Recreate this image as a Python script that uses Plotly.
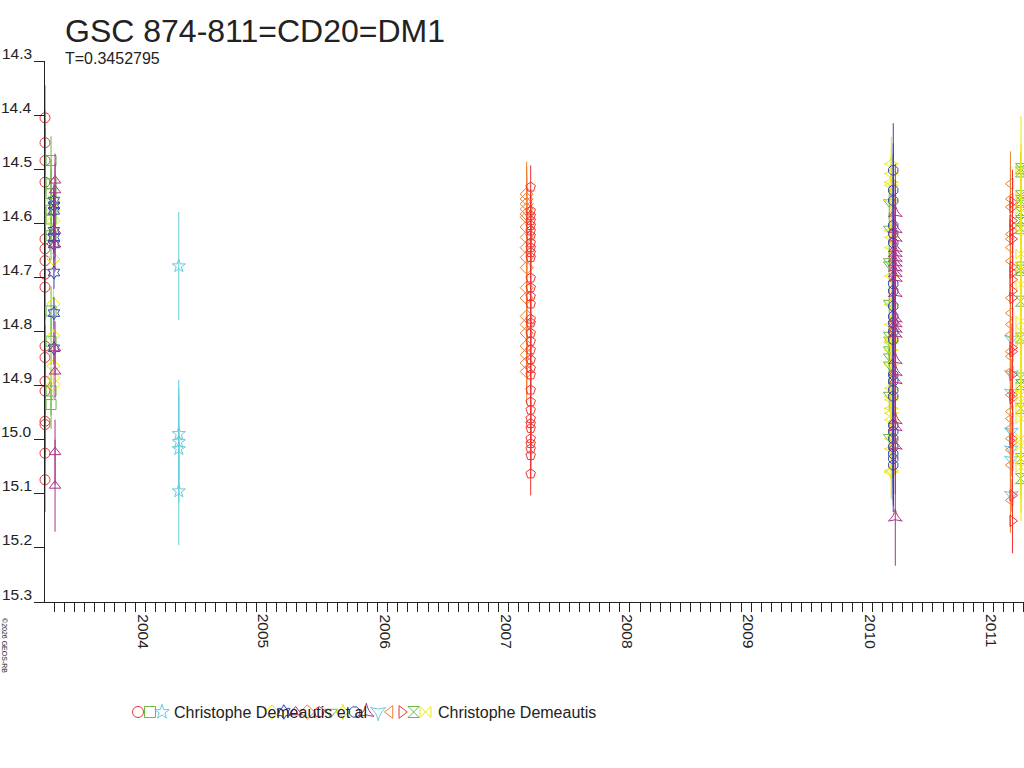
import plotly.graph_objects as go

W, H = 1024, 768

# ---------------- data ----------------
title = "GSC 874-811=CD20=DM1"
subtitle = "T=0.3452795"
copyright_text = "©2026 GEOS-RB"
observer_1 = "Christophe Demeautis et al"
observer_2 = "Christophe Demeautis"

year_ticks = [2004, 2005, 2006, 2007, 2008, 2009, 2010, 2011]
mag_ticks = [14.3, 14.4, 14.5, 14.6, 14.7, 14.8, 14.9, 15.0, 15.1, 15.2, 15.3]

# group 1 (Christophe Demeautis et al)
s1_date = 2003.256
s1_mag = [14.405, 14.451, 14.484, 14.524, 14.629, 14.647, 14.669, 14.694, 14.718,
          14.827, 14.848, 14.892, 14.910, 14.966, 14.972, 15.025, 15.074]
s1_err = 0.06

s2_date = 2003.306
s2_mag = [14.484, 14.527, 14.545, 14.576, 14.592, 14.623, 14.762, 14.818, 14.910, 14.935]
s2_err = 0.045

s3_date = 2004.36
s3_mag = [14.679, 14.989, 15.004, 15.017, 15.095]
s3_err = 0.1

# group 2 (Christophe Demeautis)
s4_date = 2003.326
s4_mag = [14.558, 14.576, 14.595, 14.666, 14.749, 14.808, 14.864, 14.885, 14.898]
s4_err = 0.03

s5_date = 2003.330
s5_mag = [14.558, 14.567, 14.577, 14.614, 14.626, 14.639, 14.691, 14.766, 14.831]
s5_err = 0.03

s6_date = 2003.339
s6_mag = [14.521, 14.539, 14.614, 14.639, 14.831, 14.874, 15.023, 15.085]
s6_err = [0.05, 0.05, 0.05, 0.05, 0.05, 0.05, 0.06, 0.085]

s7_date = 2007.231
s7_mag = [14.546, 14.555, 14.564, 14.574, 14.583, 14.589, 14.607, 14.626, 14.645, 14.663,
          14.682, 14.719, 14.738, 14.772, 14.787, 14.803, 14.827, 14.843, 14.858, 14.874]
s7_err = 0.06

s8_date = 2007.264
s8_mag = [14.533, 14.577, 14.586, 14.595, 14.604, 14.614, 14.623, 14.636, 14.645, 14.654,
          14.663, 14.701, 14.719, 14.735, 14.749, 14.777, 14.784, 14.803, 14.818, 14.834,
          14.852, 14.868, 14.880, 14.908, 14.930, 14.945, 14.961, 14.970, 14.979, 14.998,
          15.007, 15.017, 15.029, 15.063]
s8_err = 0.04

s9_date = 2010.223
s9_mag = [14.561, 14.610, 14.670, 14.676, 14.747, 14.806, 14.815, 14.833, 14.846, 14.861,
          14.917, 14.995]
s9_err = 0.03

s10_date = 2010.240
s10_mag = [14.490, 14.508, 14.524, 14.530, 14.558, 14.614, 14.626, 14.645, 14.697, 14.750,
           14.787, 14.812, 14.821, 14.834, 14.818, 14.861, 14.905, 14.920, 14.926, 14.942,
           14.951, 14.963, 14.998, 15.017, 15.057, 15.060]
s10_err = 0.05

s11_date = 2010.256
s11_mag = [14.502, 14.539, 14.558, 14.604, 14.619, 14.636, 14.712, 14.725, 14.753, 14.772,
           14.784, 14.800, 14.815, 14.880, 14.892, 14.908, 14.920, 14.973, 14.985, 14.998,
           15.013, 15.026, 15.035, 15.047]
s11_err = 0.087

s12_date = 2010.273
s12_mag = [14.580, 14.610, 14.626, 14.645, 14.654, 14.663, 14.672, 14.681, 14.691, 14.700,
           14.728, 14.775, 14.784, 14.794, 14.803, 14.852, 14.874, 14.889, 14.963, 14.976,
           15.010, 15.143]
s12_err = 0.09

s13_date = 2011.231
s13_mag = [14.815, 14.880, 14.914, 14.986, 15.019, 15.038, 15.103]
s13_err = 0.03

s14_date = 2011.223
s14_mag = [14.527, 14.555, 14.570, 14.620, 14.629, 14.645, 14.670, 14.738, 14.766, 14.787,
           14.806, 14.837, 14.846, 14.874, 14.917, 14.948, 14.961, 14.979, 14.998, 15.019,
           15.047, 15.112]
s14_err = 0.06

s15_date = 2011.240
s15_mag = [14.561, 14.570, 14.595, 14.604, 14.614, 14.629, 14.681, 14.691, 14.704, 14.725,
           14.738, 14.830, 14.837, 14.880, 14.917, 14.923, 14.998, 15.005, 15.103, 15.150]
s15_err = 0.06

s16_date = 2011.306
s16_mag = [14.499, 14.505, 14.549, 14.558, 14.580, 14.595, 14.610, 14.681, 14.687, 14.744,
           14.812, 14.886, 14.898, 14.942, 15.035, 15.072]
s16_err = 0.03

s17_date = 2011.310
s17_mag = [14.502, 14.552, 14.574, 14.608, 14.657, 14.681, 14.713, 14.781, 14.800, 14.818,
           14.905, 14.917, 14.930, 14.942, 14.961, 14.998, 15.011, 15.035, 15.051]
s17_err = 0.1

# ---------------- styles ----------------
RED, GREEN, CYAN = "#EE3333", "#66BB44", "#66CCDD"
YELLOW, BLUE, PURPLE, ORANGE = "#EEE411", "#3344AA", "#AA3388", "#F08030"
INK = "#222222"
FONT = "Liberation Sans, Arial, sans-serif"

group1 = [
    (s1_date, s1_mag, s1_err, RED, "circle-open"),
    (s2_date, s2_mag, s2_err, GREEN, "square-open"),
    (s3_date, s3_mag, s3_err, CYAN, "star-open"),
]
group2 = [
    (s4_date, s4_mag, s4_err, YELLOW, "diamond-open"),
    (s5_date, s5_mag, s5_err, BLUE, "hexagram-open"),
    (s6_date, s6_mag, s6_err, PURPLE, "triangle-up-open"),
    (s7_date, s7_mag, s7_err, ORANGE, "diamond-open"),
    (s8_date, s8_mag, s8_err, RED, "pentagon-open"),
    (s9_date, s9_mag, s9_err, GREEN, "triangle-down-open"),
    (s10_date, s10_mag, s10_err, YELLOW, "star-diamond-open"),
    (s11_date, s11_mag, s11_err, BLUE, "octagon-open"),
    (s12_date, s12_mag, s12_err, PURPLE, "star-triangle-up-open"),
    (s13_date, s13_mag, s13_err, CYAN, "star-triangle-down-open"),
    (s14_date, s14_mag, s14_err, ORANGE, "triangle-left-open"),
    (s15_date, s15_mag, s15_err, RED, "triangle-right-open"),
    (s16_date, s16_mag, s16_err, GREEN, "hourglass-open"),
    (s17_date, s17_mag, s17_err, YELLOW, "bowtie-open"),
]

fig = go.Figure()

for date, mags, err, color, sym in group1 + group2:
    errs = err if isinstance(err, list) else [err] * len(mags)
    fig.add_trace(go.Scatter(
        x=[date] * len(mags), y=mags, mode="markers",
        marker=dict(symbol=sym, size=10, color=color, line=dict(color=color, width=1)),
        error_y=dict(type="data", array=errs, width=0, thickness=1, color=color),
        showlegend=False, hoverinfo="skip", cliponaxis=False,
    ))

# ---------------- legend (drawn manually on a pixel axis) ----------------
def px_x(p):
    return p / W

def px_y(p):
    return 1 - p / H

leg_y = 712
g1_start, g2_start, step = 138, 272, 11.8
for i, (_, _, _, color, sym) in enumerate(group1):
    fig.add_trace(go.Scatter(x=[g1_start + i * 12], y=[leg_y], xaxis="x2", yaxis="y2",
                             mode="markers", showlegend=False, hoverinfo="skip",
                             marker=dict(symbol=sym, size=11, color=color,
                                         line=dict(color=color, width=1))))
for i, (_, _, _, color, sym) in enumerate(group2):
    fig.add_trace(go.Scatter(x=[g2_start + i * step], y=[leg_y], xaxis="x2", yaxis="y2",
                             mode="markers", showlegend=False, hoverinfo="skip",
                             marker=dict(symbol=sym, size=11, color=color,
                                         line=dict(color=color, width=1))))

annotations = [
    dict(text=title, x=px_x(63), y=px_y(31), xref="paper", yref="paper",
         xanchor="left", yanchor="middle", showarrow=False,
         font=dict(family=FONT, size=32, color=INK)),
    dict(text=subtitle, x=px_x(63), y=px_y(59), xref="paper", yref="paper",
         xanchor="left", yanchor="middle", showarrow=False,
         font=dict(family=FONT, size=16, color=INK)),
    dict(text=copyright_text, x=px_x(5), y=px_y(645), xref="paper", yref="paper",
         xanchor="center", yanchor="middle", showarrow=False, textangle=90,
         font=dict(family=FONT, size=7, color=INK)),
    dict(text=observer_1, x=px_x(172), y=px_y(leg_y), xref="paper", yref="paper",
         xanchor="left", yanchor="middle", showarrow=False,
         font=dict(family=FONT, size=16, color=INK)),
    dict(text=observer_2, x=px_x(436), y=px_y(leg_y), xref="paper", yref="paper",
         xanchor="left", yanchor="middle", showarrow=False,
         font=dict(family=FONT, size=16, color=INK)),
]

plot_left, plot_top, plot_bottom = 45, 61, 602

# y tick labels: left of the tick, raised above it
for m in mag_ticks:
    annotations.append(dict(text=f"{m:.1f}", x=px_x(34), y=m, xref="paper", yref="y",
                            xanchor="right", yanchor="middle", yshift=8, showarrow=False,
                            font=dict(family=FONT, size=15.5, color=INK)))
# x tick labels: rotated, just right of the tick
for yr in year_ticks:
    annotations.append(dict(text=str(yr), x=yr, y=px_y(plot_bottom + 10), xref="x",
                            yref="paper", xanchor="center", yanchor="top", xshift=8,
                            textangle=90, showarrow=False,
                            font=dict(family=FONT, size=15.5, color=INK)))

fig.update_layout(
    width=W, height=H,
    margin=dict(l=0, r=0, t=0, b=0, pad=0),
    paper_bgcolor="white", plot_bgcolor="rgba(0,0,0,0)",
    font=dict(family=FONT, color=INK),
    annotations=annotations,
    xaxis=dict(
        domain=[plot_left / W, 1], range=[2003.256, 2011.335],
        tickmode="array", tickvals=year_ticks, showticklabels=False,
        ticks="outside", ticklen=9, tickcolor=INK, tickwidth=1,
        minor=dict(dtick=1 / 12, tick0=2004, ticks="outside", ticklen=9,
                   tickcolor=INK, tickwidth=1, showgrid=False),
        showline=True, linecolor=INK, linewidth=1,
        showgrid=False, zeroline=False, anchor="y", automargin=False,
    ),
    yaxis=dict(
        domain=[1 - plot_bottom / H, 1 - plot_top / H], range=[15.3, 14.3],
        tickmode="array", tickvals=mag_ticks, showticklabels=False,
        ticks="outside", ticklen=10, tickcolor=INK, tickwidth=1,
        showline=True, linecolor=INK, linewidth=1,
        showgrid=False, zeroline=False, anchor="x", automargin=False,
    ),
    xaxis2=dict(domain=[0, 1], range=[0, W], visible=False, anchor="y2", automargin=False),
    yaxis2=dict(domain=[0, 1], range=[H, 0], visible=False, anchor="x2", automargin=False),
)

fig.write_html("out.html", config={"displayModeBar": False},
               post_script="document.body.style.margin='0';document.body.style.overflow='hidden';")
